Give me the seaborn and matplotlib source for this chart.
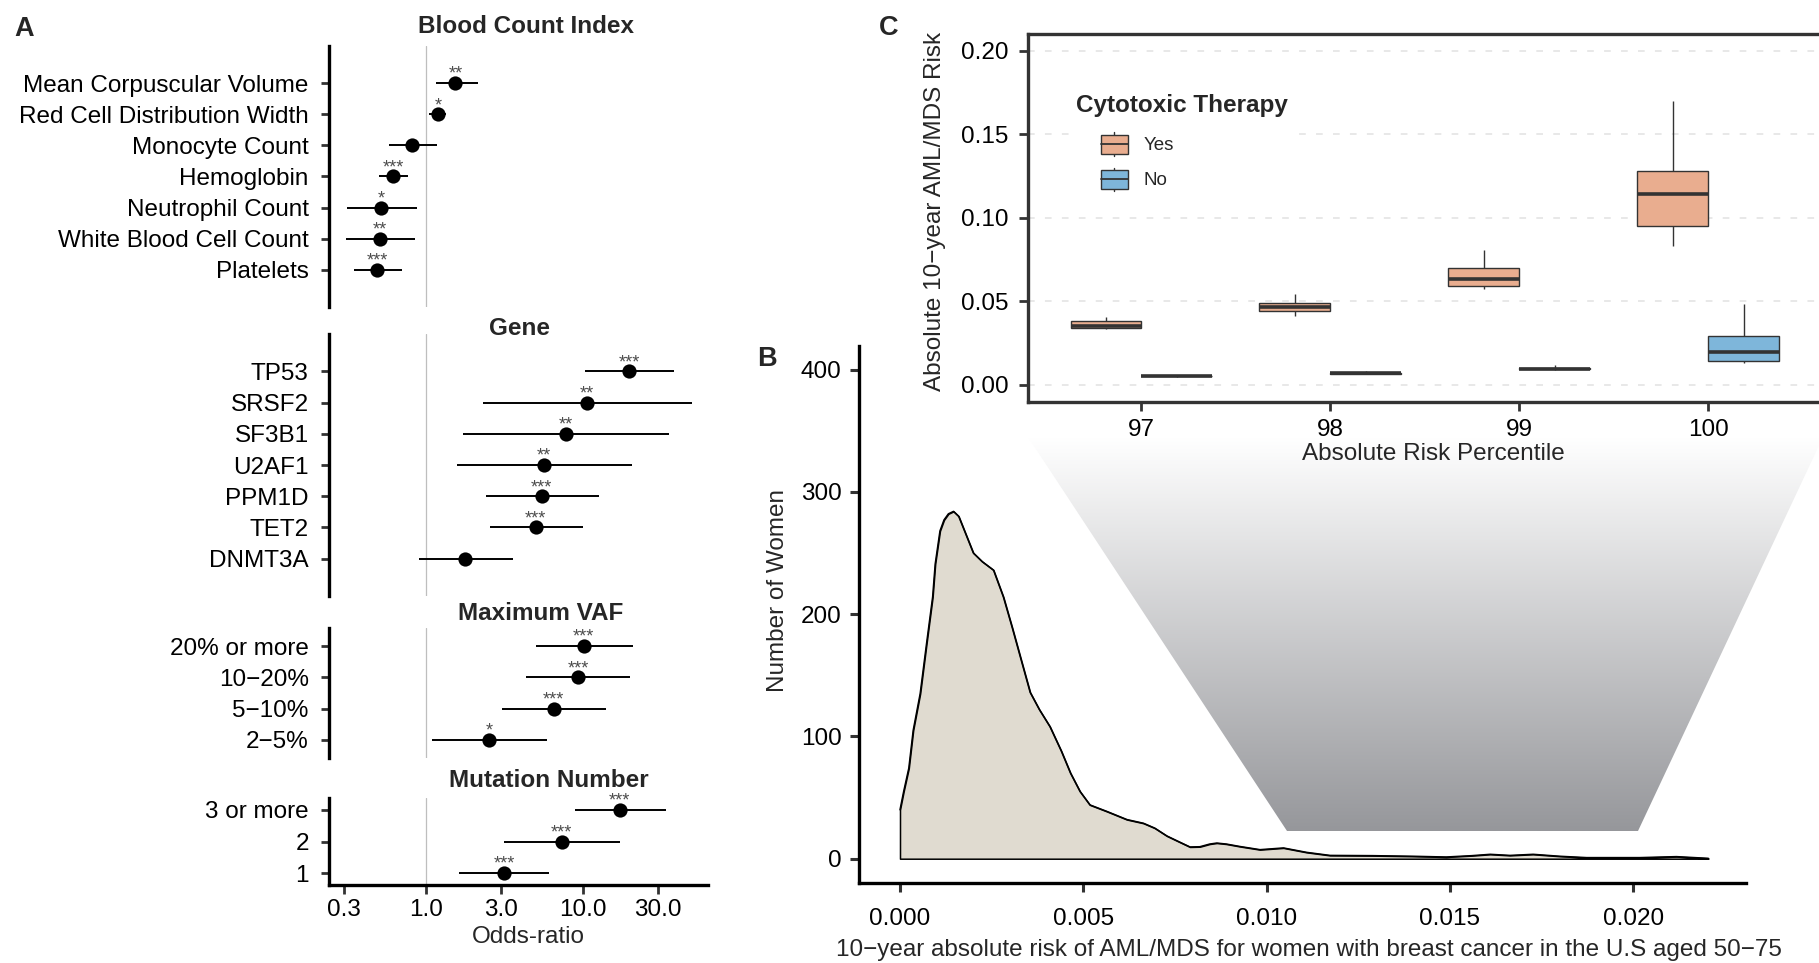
import numpy as np
import pandas as pd
import matplotlib
matplotlib.use("Agg")
import matplotlib.pyplot as plt
import seaborn as sns
from matplotlib.patches import Rectangle, Polygon, Patch
from matplotlib.lines import Line2D
from matplotlib.legend_handler import HandlerBase
from matplotlib.colors import LinearSegmentedColormap
from matplotlib.ticker import NullLocator

# ---------------- data: panel A (odds ratios) ----------------
blood_labels = ["Mean Corpuscular Volume", "Red Cell Distribution Width", "Monocyte Count",
                "Hemoglobin", "Neutrophil Count", "White Blood Cell Count", "Platelets"]
blood_or = [1.54, 1.19, 0.81, 0.62, 0.52, 0.51, 0.49]
blood_lo = [1.16, 1.05, 0.58, 0.50, 0.316, 0.31, 0.35]
blood_hi = [2.13, 1.35, 1.17, 0.77, 0.87, 0.85, 0.70]
blood_sig = ["**", "*", "", "***", "*", "**", "***"]

gene_labels = ["TP53", "SRSF2", "SF3B1", "U2AF1", "PPM1D", "TET2", "DNMT3A"]
gene_or = [19.6, 10.6, 7.8, 5.64, 5.46, 5.0, 1.78]
gene_lo = [10.3, 2.3, 1.73, 1.57, 2.4, 2.55, 0.90]
gene_hi = [37.9, 49.6, 35.4, 20.4, 12.7, 10.0, 3.57]
gene_sig = ["***", "**", "**", "**", "***", "***", ""]

vaf_labels = ["20% or more", "10\u221220%", "5\u221210%", "2\u22125%"]
vaf_or = [10.1, 9.3, 6.5, 2.53]
vaf_lo = [5.0, 4.34, 3.04, 1.09]
vaf_hi = [20.7, 20.0, 14.1, 5.87]
vaf_sig = ["***", "***", "***", "*"]

mut_labels = ["3 or more", "2", "1"]
mut_or = [17.1, 7.3, 3.14]
mut_lo = [8.9, 3.14, 1.63]
mut_hi = [33.6, 17.3, 6.1]
mut_sig = ["***", "***", "***"]

or_ticks = [0.3, 1.0, 3.0, 10.0, 30.0]
or_ticklabels = ["0.3", "1.0", "3.0", "10.0", "30.0"]

# ---------------- data: panel B (distribution) ----------------
risk_vals = [0.0, 0.0001, 0.00024, 0.00036, 0.00055, 0.00072, 0.00089, 0.00096, 0.00109, 0.0012,
             0.00132, 0.00146, 0.0016, 0.0018, 0.002, 0.00224, 0.00255, 0.00282, 0.00306, 0.0033,
             0.00355, 0.0038, 0.00409, 0.0044, 0.00465, 0.00491, 0.00518, 0.00564, 0.00619, 0.00664,
             0.00695, 0.00728, 0.0076, 0.00791, 0.00818, 0.00845, 0.00864, 0.0089, 0.00927, 0.00982,
             0.01046, 0.01109, 0.01173, 0.0129, 0.0140, 0.0149, 0.0156, 0.0161, 0.01664, 0.01727,
             0.0180, 0.01873, 0.01927, 0.02018, 0.02118, 0.02205]
women_count = [40, 55, 74, 105, 135, 175, 214, 241, 268, 277,
               282, 284, 280, 265, 250, 243, 236, 214, 189, 163,
               136, 122, 108, 88, 70, 55, 44, 38.7, 32, 29,
               25, 18.6, 14, 9.6, 9.8, 12, 12.8, 12, 10, 7.4,
               8.8, 5.2, 2.7, 2.5, 2.0, 1.4, 2.5, 3.6, 2.7, 3.6,
               2.0, 0.9, 0.9, 0.9, 1.7, 0.3]
b_xticks = [0.0, 0.005, 0.010, 0.015, 0.020]
b_xticklabels = ["0.000", "0.005", "0.010", "0.015", "0.020"]
b_yticks = [0, 100, 200, 300, 400]

# ---------------- data: panel C (box five-number summaries) ----------------
pct_levels = ["97", "98", "99", "100"]
therapy_levels = ["Yes", "No"]
yes_min = [0.0333, 0.0409, 0.0571, 0.0832]
yes_q1 = [0.0341, 0.0442, 0.0589, 0.0952]
yes_med = [0.0352, 0.0463, 0.0634, 0.1142]
yes_q3 = [0.0383, 0.0489, 0.0700, 0.1280]
yes_max = [0.0403, 0.0543, 0.0806, 0.1700]
no_min = [0.0047, 0.0063, 0.0086, 0.0127]
no_q1 = [0.0049, 0.0065, 0.0091, 0.0143]
no_med = [0.0051, 0.0067, 0.0095, 0.0195]
no_q3 = [0.0053, 0.0070, 0.0099, 0.0293]
no_max = [0.0055, 0.0080, 0.0118, 0.0483]
c_yticks = [0.00, 0.05, 0.10, 0.15, 0.20]

# ---------------- styling ----------------
W, H, DPI = 1819, 963, 100
sns.set_theme(style="white")
plt.rcParams["font.family"] = ["Liberation Sans", "DejaVu Sans"]
plt.rcParams["lines.scale_dashes"] = False
FS = 17.5
COL_YES = "#E9AD8F"
COL_NO = "#7EB6DA"
EDGE = "#333333"
TICKC = "#333333"

fig = plt.figure(figsize=(W / DPI, H / DPI), dpi=DPI, facecolor="white")


def add_ax(l, t, r, b, **kw):
    return fig.add_axes([l / W, 1 - b / H, (r - l) / W, (b - t) / H], **kw)


def ftext(x, y, s, **kw):
    return fig.text(x / W, 1 - y / H, s, **kw)


# ---------------- background gradient connector ----------------
ax_bg = fig.add_axes([0, 0, 1, 1], zorder=0)
ax_bg.set_xlim(0, W)
ax_bg.set_ylim(H, 0)
ax_bg.axis("off")
grad_cmap = LinearSegmentedColormap.from_list("g", ["#FFFFFF", "#96979B"])
grad = np.linspace(0, 1, 256)[:, None]
im = ax_bg.imshow(grad, extent=(1020, 1830, 831, 437), cmap=grad_cmap, aspect="auto",
                  origin="upper", interpolation="bilinear")
clip = Polygon([(1028, 437), (1823, 437), (1638, 831), (1287, 831)], closed=True,
               transform=ax_bg.transData)
im.set_clip_path(clip)

# ---------------- panel A ----------------
XLO = 10 ** ((329 - 426) / 157.0)
XHI = 10 ** ((708 - 426) / 157.0)


def forest(ax, labels, ors, los, his, sigs, pad, bottom=False):
    n = len(labels)
    rows = np.arange(n)
    ax.set_facecolor("none")
    ax.axvline(1.0, color="#BEBEBE", lw=0.9, zorder=0)
    ax.hlines(rows, los, his, color="black", lw=1.4, zorder=2)
    sns.scatterplot(x=ors, y=rows, ax=ax, s=105, color="black", edgecolor="black",
                    linewidth=0, zorder=3, legend=False)
    for r, o, s in zip(rows, ors, sigs):
        if s:
            ax.annotate(s, (o, r), xytext=(0, 3.0), textcoords="offset points",
                        ha="center", va="baseline", fontsize=13, color="#4D4D4D")
    ax.set_xscale("log")
    ax.set_xlim(XLO, XHI)
    ax.set_ylim(n - 1 + pad[1], -pad[0])
    ax.set_yticks(rows, labels, fontsize=FS, color="black")
    ax.tick_params(axis="y", left=True, length=5.5, width=2.0, color=TICKC, pad=9)
    for sp in ["top", "right"]:
        ax.spines[sp].set_visible(False)
    ax.spines["left"].set_linewidth(2.4)
    ax.spines["left"].set_color("black")
    ax.xaxis.set_minor_locator(NullLocator())
    if bottom:
        ax.spines["bottom"].set_linewidth(2.4)
        ax.spines["bottom"].set_color("black")
        ax.set_xticks(or_ticks, or_ticklabels, fontsize=FS, color="black")
        ax.tick_params(axis="x", bottom=True, length=6.5, width=2.0, color=TICKC, pad=3.5)
    else:
        ax.spines["bottom"].set_visible(False)
        ax.set_xticks([])
    ax.set_xlabel("")
    ax.set_ylabel("")


axA1 = add_ax(329, 46, 708, 307, zorder=1)
forest(axA1, blood_labels, blood_or, blood_lo, blood_hi, blood_sig, (1.19, 1.19))
axA2 = add_ax(329, 334, 708, 596, zorder=1)
forest(axA2, gene_labels, gene_or, gene_lo, gene_hi, gene_sig, (1.2, 1.2))
axA3 = add_ax(329, 628, 708, 758, zorder=1)
forest(axA3, vaf_labels, vaf_or, vaf_lo, vaf_hi, vaf_sig, (0.58, 0.58))
axA4 = add_ax(329, 798, 708, 885, zorder=1)
forest(axA4, mut_labels, mut_or, mut_lo, mut_hi, mut_sig, (0.38, 0.38), bottom=True)

ftext(526, 33.3, "Blood Count Index", ha="center", va="baseline", fontsize=FS, fontweight="bold")
ftext(519, 335, "Gene", ha="center", va="baseline", fontsize=FS, fontweight="bold")
ftext(541, 620, "Maximum VAF", ha="center", va="baseline", fontsize=FS, fontweight="bold")
ftext(549, 786.7, "Mutation Number", ha="center", va="baseline", fontsize=FS, fontweight="bold")
ftext(528, 943, "Odds-ratio", ha="center", va="baseline", fontsize=FS)

# ---------------- panel B ----------------
axB = add_ax(859, 346, 1746, 883, zorder=1)
axB.set_facecolor("none")
axB.fill_between(risk_vals, women_count, 0, facecolor="#E0DBD0", edgecolor="black",
                 linewidth=1.1, zorder=2)
sns.lineplot(x=risk_vals, y=women_count, ax=axB, color="black", lw=1.1, estimator=None,
             sort=False, zorder=3)
axB.set_xlim((859 - 900) / 36660.0, (1746 - 900) / 36660.0)
axB.set_ylim(-(883 - 858.7) / 1.223, (858.7 - 346) / 1.223)
axB.set_xticks(b_xticks, b_xticklabels, fontsize=FS, color="black")
axB.set_yticks(b_yticks, [str(v) for v in b_yticks], fontsize=FS, color="black")
axB.tick_params(axis="x", bottom=True, length=6.7, width=2.2, color=TICKC, pad=11)
axB.tick_params(axis="y", left=True, length=6.5, width=2.2, color=TICKC, pad=6)
for sp in ["top", "right"]:
    axB.spines[sp].set_visible(False)
for sp in ["left", "bottom"]:
    axB.spines[sp].set_linewidth(2.4)
    axB.spines[sp].set_color("black")
axB.set_xlabel("")
axB.set_ylabel("")
ftext(778, 591, "Number of Women", rotation=90, ha="center", va="center", fontsize=FS)
ftext(1309, 950, "10\u2212year absolute risk of AML/MDS for women with breast cancer in the U.S aged 50\u221275",
      ha="center", va="center", fontsize=FS)

# ---------------- panel C ----------------
rows_c = []
for i, p in enumerate(pct_levels):
    for v in [yes_min[i], yes_q1[i], yes_med[i], yes_q3[i], yes_max[i]]:
        rows_c.append((p, "Yes", v))
    for v in [no_min[i], no_q1[i], no_med[i], no_q3[i], no_max[i]]:
        rows_c.append((p, "No", v))
dfC = pd.DataFrame(rows_c, columns=["Percentile", "Therapy", "Risk"])

axC = add_ax(1028, 34.3, 1821.7, 401.5, zorder=2)
axC.set_facecolor("white")
axC.set_axisbelow(True)
axC.yaxis.grid(True, linestyle=(0, (4.8, 7.4)), color="#E6E6E6", linewidth=1.3)
sns.boxplot(data=dfC, x="Percentile", y="Risk", hue="Therapy", order=pct_levels,
            hue_order=therapy_levels, palette={"Yes": COL_YES, "No": COL_NO},
            saturation=1, width=0.75, gap=0, whis=(0, 100), linewidth=1.0, linecolor=EDGE,
            showcaps=False, fliersize=0, medianprops={"linewidth": 2.6, "color": EDGE},
            ax=axC, legend=False)
axC.set_xlim(-0.6, 3.6)
axC.set_ylim(-(401.5 - 384.5) / 1668.0, 0.20 + (51 - 34.3) / 1668.0)
axC.set_yticks(c_yticks, [f"{v:.2f}" for v in c_yticks], fontsize=FS, color="black")
axC.set_xticks(range(4), pct_levels, fontsize=FS, color="black")
axC.tick_params(axis="x", bottom=True, length=6.5, width=2.0, color=TICKC, pad=5.8)
axC.tick_params(axis="y", left=True, length=6.8, width=2.0, color=TICKC, pad=7.2)
for sp in axC.spines.values():
    sp.set_visible(True)
    sp.set_linewidth(2.4)
    sp.set_color(EDGE)
axC.set_xlabel("")
axC.set_ylabel("")
ftext(935, 211, "Absolute 10\u2212year AML/MDS Risk", rotation=90, ha="center", va="center",
      fontsize=FS)
ftext(1433.5, 460, "Absolute Risk Percentile", ha="center", va="baseline", fontsize=FS)


class BoxKeyHandler(HandlerBase):
    def create_artists(self, legend, orig_handle, xdescent, ydescent, width, height,
                       fontsize, trans):
        bw, bh = 19.2, 13.4
        x0 = width - bw - xdescent
        yc = height / 2 - ydescent
        xm = x0 + bw / 2
        w1 = Line2D([xm, xm], [yc - height / 2, yc - bh / 2], color=EDGE, lw=1.0, transform=trans)
        w2 = Line2D([xm, xm], [yc + bh / 2, yc + height / 2], color=EDGE, lw=1.0, transform=trans)
        rect = Rectangle((x0, yc - bh / 2), bw, bh, facecolor=orig_handle.get_facecolor(),
                         edgecolor=EDGE, lw=1.0, transform=trans)
        med = Line2D([x0, x0 + bw], [yc, yc], color=EDGE, lw=1.3, transform=trans)
        return [w1, w2, rect, med]


leg = axC.legend([Patch(facecolor=COL_YES), Patch(facecolor=COL_NO)], therapy_levels,
                 title="Cytotoxic Therapy", handler_map={Patch: BoxKeyHandler()},
                 loc="upper left", bbox_to_anchor=(1070 / W, 1 - 88 / H),
                 bbox_transform=fig.transFigure, borderaxespad=0, borderpad=0.33,
                 frameon=True, fancybox=False, framealpha=1, facecolor="white",
                 edgecolor="white", fontsize=13.5,
                 title_fontproperties={"weight": "bold", "size": FS},
                 alignment="left", handlelength=2.74, handleheight=1.55,
                 handletextpad=0.85, labelspacing=0.62)
leg.get_frame().set_linewidth(0)
leg._legend_box.sep = 11

# ---------------- panel letters ----------------
ftext(14, 36, "A", ha="left", va="baseline", fontsize=19.5, fontweight="bold")
ftext(757, 366, "B", ha="left", va="baseline", fontsize=19.5, fontweight="bold")
ftext(879, 35, "C", ha="left", va="baseline", fontsize=19.5, fontweight="bold")

fig.savefig("out.png", dpi=DPI, facecolor="white")
